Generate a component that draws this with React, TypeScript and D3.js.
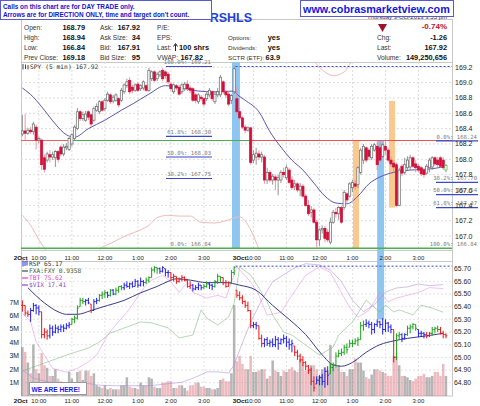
import React from 'react';
import * as d3 from 'd3';

// ---------------- DATA ----------------
const dayLabels = ['2Oct', '3Oct'];
const hourLabels = ['10:00', '11:00', '12:00', '1:00', '2:00', '3:00'];
const barsPerDay = 78;

// SPY 5-min candles [open, high, low, close]
const spyBars: number[][] = [
  [168.33,168.58,168.30,168.37],[168.37,168.59,168.25,168.34],[168.34,168.41,168.32,168.38],[168.38,168.42,168.33,168.36],
  [168.36,168.49,168.32,168.46],[168.42,168.45,168.13,168.25],[168.25,168.30,168.21,168.27],[168.25,168.27,167.86,167.93],
  [168.02,168.06,167.83,167.87],[167.99,168.10,167.96,168.07],[168.06,168.12,167.96,168.03],[168.03,168.10,167.99,168.06],
  [168.02,168.12,167.90,168.10],[168.10,168.12,167.96,168.00],[168.16,168.19,168.04,168.07],[168.07,168.20,168.04,168.16],
  [168.15,168.21,168.12,168.17],[168.13,168.29,168.11,168.27],[168.20,168.34,168.17,168.32],[168.27,168.45,168.24,168.42],
  [168.40,168.67,168.38,168.62],[168.62,168.64,168.50,168.53],[168.53,168.62,168.50,168.58],[168.51,168.63,168.49,168.59],
  [168.62,168.64,168.51,168.55],[168.58,168.60,168.42,168.46],[168.51,168.69,168.49,168.66],[168.64,168.73,168.62,168.69],
  [168.62,168.77,168.59,168.75],[168.75,168.77,168.62,168.64],[168.66,168.80,168.63,168.77],[168.77,168.88,168.75,168.85],
  [168.84,168.86,168.72,168.75],[168.76,168.84,168.73,168.81],[168.77,168.86,168.75,168.84],[168.79,168.81,168.68,168.71],
  [168.77,168.93,168.75,168.90],[168.88,168.99,168.85,168.97],[168.96,169.05,168.93,169.01],[169.03,169.07,168.85,168.88],
  [168.94,168.97,168.86,168.90],[168.90,168.99,168.88,168.97],[168.98,169.01,168.88,168.90],[168.92,168.98,168.89,168.96],
  [168.93,169.03,168.90,169.01],[168.96,168.98,168.88,168.90],[168.90,169.19,168.88,169.16],[169.05,169.16,169.02,169.14],
  [169.14,169.16,169.01,169.03],[169.05,169.14,169.02,169.11],[169.10,169.16,169.07,169.14],[169.16,169.19,169.02,169.05],
  [169.14,169.16,169.05,169.09],[169.11,169.14,168.98,169.01],[168.98,169.01,168.89,168.92],[168.88,168.99,168.85,168.97],
  [168.96,168.98,168.90,168.93],[168.94,168.97,168.83,168.85],[168.88,168.99,168.85,168.97],[168.92,169.01,168.89,168.98],
  [168.98,169.03,168.89,168.92],[168.93,168.96,168.86,168.90],[168.92,168.94,168.75,168.77],[168.84,168.86,168.73,168.77],
  [168.75,168.86,168.72,168.84],[168.81,168.84,168.76,168.79],[168.79,168.81,168.69,168.72],[168.79,168.88,168.76,168.85],
  [168.84,168.93,168.81,168.90],[168.88,168.90,168.76,168.79],[168.75,168.88,168.72,168.85],[168.84,168.93,168.81,168.88],
  [168.84,169.10,168.81,169.07],[169.01,169.03,168.85,168.88],[168.88,168.90,168.80,168.84],[168.85,168.88,168.69,168.72],
  [168.77,168.85,168.72,168.83],[168.88,169.21,168.85,169.18],
  // day 2
  [168.79,168.94,168.59,168.62],[168.62,168.67,168.51,168.54],[168.54,168.56,168.40,168.42],[168.42,168.45,168.34,168.38],
  [168.38,168.43,168.36,168.41],[168.41,168.42,167.93,167.96],[167.99,168.12,167.95,168.06],[168.03,168.15,167.93,168.08],
  [168.07,168.12,167.99,168.03],[168.03,168.10,167.96,168.06],[168.03,168.06,167.68,167.73],[167.73,167.89,167.68,167.83],
  [167.83,167.86,167.70,167.73],[167.73,167.81,167.67,167.78],[167.77,167.80,167.60,167.73],[167.73,167.80,167.53,167.76],
  [167.73,167.86,167.69,167.83],[167.83,167.89,167.76,167.80],[167.76,167.93,167.73,167.89],[167.86,167.89,167.68,167.70],
  [167.73,167.78,167.60,167.63],[167.65,167.73,167.60,167.68],[167.68,167.70,167.57,167.60],[167.60,167.69,167.52,167.65],
  [167.65,167.68,167.50,167.52],[167.52,167.55,167.38,167.40],[167.40,167.47,167.26,167.29],[167.31,167.39,167.24,167.34],
  [167.34,167.37,167.16,167.18],[167.18,167.21,166.84,166.95],[166.95,167.10,166.87,167.08],[167.08,167.14,167.03,167.10],
  [167.10,167.13,166.92,166.97],[167.05,167.09,166.92,166.95],[166.92,167.24,166.89,167.18],[167.18,167.34,167.16,167.31],
  [167.31,167.37,167.24,167.29],[167.29,167.39,167.21,167.37],[167.37,167.39,167.16,167.18],[167.37,167.60,167.34,167.57],
  [167.55,167.57,167.42,167.47],[167.52,167.70,167.50,167.68],[167.63,167.73,167.57,167.70],[167.68,167.73,167.60,167.65],
  [167.67,167.91,167.63,167.89],[167.83,168.15,167.80,168.12],[167.99,168.20,167.94,168.17],[168.15,168.17,167.96,167.99],
  [168.12,168.15,167.99,168.04],[168.02,168.20,167.99,168.17],[168.12,168.21,168.10,168.19],[168.17,168.23,167.86,167.93],
  [168.15,168.23,167.96,167.99],[168.04,168.21,168.02,168.19],[168.17,168.24,168.06,168.12],[168.12,168.15,167.96,167.99],
  [167.99,168.04,167.90,167.94],[167.95,167.99,167.83,167.90],[167.93,167.96,167.38,167.40],[167.40,167.89,167.39,167.86],
  [167.91,167.94,167.78,167.82],[167.83,168.02,167.80,167.93],[167.89,168.04,167.86,167.99],[167.90,168.06,167.86,168.02],
  [168.02,168.04,167.89,167.91],[167.94,167.99,167.83,167.89],[167.91,167.94,167.83,167.86],[167.89,167.91,167.78,167.81],
  [167.86,167.89,167.76,167.80],[167.82,167.94,167.80,167.91],[167.89,168.02,167.83,167.99],[167.90,168.04,167.86,168.02],
  [168.02,168.04,167.91,167.94],[167.99,168.03,167.90,167.93],[168.02,168.04,167.89,167.91],[167.99,168.03,167.86,167.89],
  [167.86,167.94,167.83,167.92],
];

// SPY moving average [barIndex, value]
const spyMA: number[][] = [
  [0,168.93],[4,168.81],[8,168.64],[12,168.46],[16,168.32],[19,168.29],[24,168.40],[30,168.51],[36,168.64],[40,168.72],
  [46,168.85],[52,168.96],[58,168.93],[64,168.89],[70,168.88],[77,168.89],
  [78,168.85],[81,168.77],[86,168.62],[90,168.36],[94,168.16],[98,167.99],[102,167.86],[106,167.69],[110,167.52],
  [114,167.43],[118,167.42],[122,167.52],[126,167.68],[130,167.77],[135,167.83],[141,167.86],[147,167.87],[153,167.90],
];

// comparison overlay (light pink) [barIndex, value | null]
const compareLine: (number | null)[][] = [
  [0,167.27],[3,167.14],[6,166.95],[9,166.79],[12,166.62],[18,166.50],[24,166.62],[28,166.82],[33,166.92],[38,167.01],
  [43,167.08],[46,167.14],[49,167.24],[53,167.27],[57,167.26],[61,167.26],[65,167.18],[70,167.17],[74,167.20],[79,167.25],
  [83,167.08],[86,166.82],[88,166.60],[90,null],[103,null],[104,169.50],[105,169.37],[107,169.24],[110,169.14],[113,169.09],
  [117,169.14],[119,169.24],[122,169.37],[123,169.50],
];

// RSP [high, low, close]
const rspBars: number[][] = [
  [65.45,65.36,65.41],[65.41,65.33,65.35],[65.37,65.32,65.34],[65.39,65.28,65.37],[65.43,65.36,65.41],[65.42,65.34,65.39],
  [65.41,65.33,65.36],[65.36,65.15,65.18],[65.23,65.15,65.20],[65.22,65.14,65.17],[65.26,65.15,65.23],[65.25,65.17,65.20],
  [65.26,65.19,65.23],[65.25,65.19,65.22],[65.26,65.20,65.24],[65.26,65.20,65.23],[65.27,65.22,65.25],[65.28,65.23,65.26],
  [65.31,65.26,65.30],[65.33,65.27,65.31],[65.41,65.30,65.39],[65.47,65.40,65.45],[65.47,65.42,65.44],[65.46,65.41,65.45],
  [65.47,65.42,65.43],[65.42,65.35,65.37],[65.46,65.37,65.44],[65.47,65.42,65.45],[65.50,65.44,65.49],[65.52,65.46,65.50],
  [65.53,65.47,65.51],[65.52,65.47,65.49],[65.54,65.48,65.53],[65.54,65.49,65.50],[65.55,65.49,65.53],[65.56,65.51,65.56],
  [65.57,65.53,65.55],[65.59,65.53,65.57],[65.60,65.55,65.56],[65.59,65.54,65.58],[65.60,65.55,65.56],[65.62,65.56,65.60],
  [65.61,65.55,65.57],[65.63,65.56,65.60],[65.61,65.56,65.59],[65.63,65.58,65.61],[65.64,65.59,65.63],[65.71,65.63,65.69],
  [65.72,65.67,65.71],[65.71,65.66,65.70],[65.71,65.66,65.68],[65.72,65.67,65.71],[65.70,65.64,65.67],[65.69,65.63,65.67],
  [65.67,65.61,65.63],[65.66,65.60,65.64],[65.64,65.58,65.60],[65.63,65.59,65.62],[65.65,65.60,65.63],[65.64,65.60,65.61],
  [65.62,65.55,65.56],[65.60,65.54,65.57],[65.58,65.52,65.54],[65.57,65.53,65.55],[65.59,65.53,65.57],[65.57,65.53,65.55],
  [65.58,65.54,65.56],[65.60,65.55,65.58],[65.59,65.54,65.57],[65.58,65.53,65.56],[65.61,65.55,65.60],[65.66,65.58,65.64],
  [65.64,65.59,65.63],[65.63,65.57,65.59],[65.61,65.55,65.56],[65.60,65.56,65.59],[65.69,65.58,65.67],[65.72,65.65,65.71],
  // day 2
  [65.53,65.47,65.49],[65.52,65.45,65.47],[65.49,65.42,65.44],[65.45,65.39,65.41],[65.44,65.36,65.37],[65.37,65.23,65.25],
  [65.28,65.23,65.26],[65.28,65.22,65.25],[65.25,65.14,65.15],[65.18,65.08,65.11],[65.15,65.08,65.14],[65.16,65.09,65.11],
  [65.14,65.08,65.12],[65.15,65.08,65.10],[65.17,65.08,65.14],[65.16,65.06,65.11],[65.15,65.10,65.14],[65.18,65.11,65.15],
  [65.17,65.08,65.12],[65.15,65.06,65.10],[65.14,65.04,65.11],[65.09,65.01,65.04],[65.06,64.98,65.01],[65.03,64.96,64.98],
  [65.01,64.93,64.96],[64.97,64.90,64.93],[64.94,64.87,64.90],[64.92,64.78,64.81],[64.85,64.73,64.76],[64.85,64.79,64.82],
  [64.86,64.78,64.84],[64.87,64.78,64.81],[64.92,64.76,64.89],[64.93,64.78,64.86],[64.95,64.87,64.92],[64.96,64.89,64.94],
  [65.04,64.92,65.01],[65.06,65.00,65.03],[65.07,65.01,65.04],[65.10,65.02,65.08],[65.11,65.03,65.06],[65.14,65.08,65.11],
  [65.14,65.08,65.11],[65.15,65.10,65.13],[65.16,65.09,65.14],[65.28,65.14,65.25],[65.29,65.21,65.26],[65.30,65.24,65.27],
  [65.29,65.23,65.26],[65.28,65.18,65.22],[65.27,65.19,65.26],[65.30,65.24,65.28],[65.29,65.23,65.26],[65.31,65.18,65.22],
  [65.30,65.20,65.27],[65.28,65.20,65.24],[65.26,65.19,65.22],[65.22,64.96,65.00],[65.19,64.98,65.17],[65.20,65.14,65.18],
  [65.19,65.12,65.15],[65.19,65.14,65.18],[65.25,65.17,65.23],[65.26,65.19,65.24],[65.27,65.22,65.26],[65.26,65.21,65.23],
  [65.22,65.16,65.19],[65.21,65.16,65.19],[65.20,65.15,65.18],[65.20,65.15,65.17],[65.20,65.16,65.19],[65.24,65.17,65.22],
  [65.24,65.19,65.23],[65.25,65.20,65.22],[65.24,65.18,65.19],[65.21,65.15,65.18],[65.19,65.15,65.17],
];

// RSP bar signal: 1 = up (green), 0 = neutral (blue), -1 = down (red)
const rspSignal: number[] = [
  -1,-1,-1,0,0,0,0,-1,-1,-1, 0,0,0,0,0,0,0,0,1,1, 1,1,1,0,0,-1,0,0,1,1, 1,0,1,0,1,1,1,0,0,0,
  0,0,0,0,0,1,1,1,1,1, 0,0,0,0,-1,-1,-1,-1,-1,-1, -1,-1,0,0,0,0,1,1,0,0, 1,1,1,-1,-1,-1,1,1,
  -1,-1,-1,-1,-1,-1,0,0,-1,-1, 0,0,0,0,0,0,0,0,0,0, 0,-1,-1,-1,-1,-1,-1,-1,-1,0, 0,0,0,0,1,1,1,1,1,1,
  1,1,1,1,1,1,1,0,0,0, 0,0,0,0,0,0,0,-1,1,1, 0,0,1,1,1,1,0,0,0,-1, -1,1,1,1,-1,-1,-1,
];

const rspMA: number[][] = [
  [2,65.55],[8,65.43],[13,65.36],[16,65.34],[20,65.34],[25,65.37],[31,65.41],[37,65.45],[43,65.51],[49,65.56],
  [53,65.60],[56,65.62],[61,65.61],[67,65.59],[74,65.59],[79,65.57],[85,65.53],[91,65.41],[97,65.30],[103,65.18],
  [109,65.02],[113,64.94],[116,64.93],[120,64.96],[125,65.04],[130,65.10],[135,65.13],[140,65.15],[147,65.17],[153,65.19],
];

const fxaFxy: number[][] = [
  [0,0.93381],[8,0.93408],[16,0.93435],[24,0.93459],[28,0.93479],[32,0.93510],[38,0.93530],[43,0.93547],[47,0.93544],
  [53,0.93527],[57,0.93493],[62,0.93503],[65,0.93588],[67,0.93560],[71,0.93537],[75,0.93564],[77,0.93611],[79,0.93733],
  [83,0.93706],[86,0.93662],[89,0.93615],[91,0.93571],[95,0.93513],[98,0.93503],[103,0.93469],[108,0.93435],[113,0.93462],
  [115,0.93503],[120,0.93547],[125,0.93621],[127,0.93604],[130,0.93581],[132,0.93604],[135,0.93581],[137,0.93588],
  [142,0.93571],[145,0.93604],[149,0.93594],[153,0.93580],
];
const tbt: number[][] = [
  [0,75.36],[3,75.27],[5,75.06],[8,74.92],[11,74.78],[16,74.74],[20,74.78],[24,74.85],[27,74.92],[31,75.13],[34,75.24],
  [38,75.37],[40,75.45],[43,75.58],[45,75.66],[47,75.71],[51,75.76],[54,75.69],[57,75.58],[60,75.69],[62,75.58],[67,75.52],
  [71,75.55],[74,75.52],[78,75.85],[83,75.69],[86,75.55],[89,75.34],[94,75.37],[98,75.55],[103,75.76],[108,75.85],
  [112,75.79],[115,75.63],[119,75.42],[122,75.32],[126,75.39],[130,75.58],[133,75.48],[136,75.52],[140,75.55],[144,75.58],
  [148,75.63],[153,75.62],
];
const vix: number[][] = [
  [0,15.93],[4,15.79],[10,15.72],[22,15.71],[28,15.67],[34,15.66],[46,15.66],[52,15.69],[58,15.72],[62,15.79],[65,15.85],
  [67,15.90],[71,15.90],[75,15.88],[77,16.02],[79,16.28],[83,16.76],[87,17.14],[91,17.46],[95,17.58],[99,17.70],[103,17.77],
  [108,17.75],[112,17.66],[116,17.46],[120,17.14],[124,16.94],[128,17.06],[132,17.28],[136,17.35],[140,17.37],[144,17.42],
  [148,17.39],[153,17.41],
];

// SPY volume, millions of shares per bar
const volumeM: number[] = [
  3.65,3.3,2.5,1.7,3.85,2.0,1.7,3.2,2.3,2.1, 1.5,1.5,2.0,1.3,1.1,0.9,1.0,1.8,1.3,0.8,
  1.8,1.9,1.2,1.9,1.9,1.5,1.7,0.8,0.7,0.6, 0.8,0.5,0.6,0.5,0.5,0.5,0.8,0.8,1.4,0.7,
  0.6,0.6,0.5,1.0,0.8,0.8,1.4,1.3,0.7,0.6, 0.6,1.0,1.0,1.1,1.1,0.6,0.6,0.8,0.8,0.6,
  0.4,0.8,0.8,1.0,1.0,0.7,0.7,0.6,0.6,0.5, 0.5,0.6,1.2,1.3,1.1,1.1,1.7,6.8,
  2.6,3.0,2.4,2.0,2.0,3.0,1.8,1.8,1.9,2.0, 2.0,1.3,1.5,2.65,1.9,1.8,1.5,1.9,1.8,2.0,
  2.15,1.9,1.8,2.8,2.5,1.9,2.0,2.3,2.3,2.0, 1.5,2.0,2.15,1.9,3.8,2.3,2.15,2.3,1.8,1.8,
  1.5,2.0,2.0,2.8,2.5,2.5,1.9,1.4,1.3,1.6, 2.0,2.0,1.9,1.8,1.7,1.5,1.5,3.0,3.0,2.3,
  1.5,1.5,1.4,1.2,1.1,1.3,1.5,1.5,1.65,1.4, 1.4,1.5,1.8,1.8,1.5,2.4,1.5,
];

const priceTicks = [167.0, 167.2, 167.4, 167.6, 167.8, 168.0, 168.2, 168.4, 168.6, 168.8, 169.0, 169.2];
const rspTicks = [64.8, 64.9, 65.0, 65.1, 65.2, 65.3, 65.4, 65.5, 65.6, 65.7];
const volTicks = [1, 2, 3, 4, 5, 6, 7];

const fibPct = ['0.0%', '38.2%', '50.0%', '61.8%', '100.0%'];
const fib1Prices = [166.84, 167.75, 168.03, 168.30, 169.21];
const fib2Prices = [168.24, 167.70, 167.54, 167.37, 166.84];
const supportLevel = 168.245;

// highlight columns [fromBar, toBar, topPrice, bottomPrice]
const blueCols = [[76.2, 79.1, 169.27, 166.84]];
const orangeCols = [[120.2, 122.4, 168.24, 166.84], [133.3, 135.5, 168.76, 167.37]];
const blueSpan = [129.0, 131.5, 168.24, 65.30]; // price top, RSP bottom

// ---------------- CHART ----------------
const PL = 21, PR = 452;
const UT = 62, UB = 250;
const LT = 261, LB = 396;

export default function App() {
  const x = d3.scaleLinear().domain([-0.5, 156.2]).range([PL, PR]);
  const yP = d3.scaleLinear().domain([166.84, 169.21]).range([248.3, 66.5]);
  const yR = d3.scaleLinear().domain([64.8, 65.7]).range([382.7, 268.7]);
  const yV = d3.scaleLinear().domain([0, 7]).range([396, 302.3]);
  const yFx = d3.scaleLinear().domain([0.933, 0.9375]).range([395, 262]);
  const yTbt = d3.scaleLinear().domain([74.5, 75.9]).range([395, 262]);
  const yVix = d3.scaleLinear().domain([15.5, 17.8]).range([395, 262]);

  const hourTicks: { k: number; label: string }[] = [];
  dayLabels.forEach((_, d) => hourLabels.forEach((lab, h) => hourTicks.push({ k: d * barsPerDay + 6 + 12 * h, label: lab })));

  const smooth = (ys: (v: number) => number) =>
    d3.line<number[]>().x((d) => x(d[0])).y((d) => ys(d[1])).curve(d3.curveMonotoneX);
  const straight = (ys: (v: number) => number) =>
    d3.line<number[]>().x((d) => x(d[0])).y((d) => ys(d[1]));
  const compPath = d3
    .line<(number | null)[]>()
    .defined((d) => d[1] !== null)
    .x((d) => x(d[0] as number))
    .y((d) => yP(d[1] as number))
    .curve(d3.curveMonotoneX)(compareLine);

  const prevHighSpy = d3.max(spyBars.slice(0, barsPerDay), (b) => b[1]) as number;
  const prevHighRsp = d3.max(rspBars.slice(0, barsPerDay), (b) => b[0]) as number;

  const sigColor = (s: number) => (s > 0 ? '#1aa01a' : s < 0 ? '#ee1515' : '#2020e8');
  const mono = '"DejaVu Sans Mono", monospace';
  const sans = '"Liberation Sans", Arial, sans-serif';

  const hdrLabel = { fontSize: 6.6, fill: '#333', fontFamily: sans } as const;
  const hdrVal = { fontSize: 7.4, fill: '#111', fontWeight: 700, fontFamily: sans } as const;
  const rowY = [29.5, 39.5, 49.5, 59.5];

  return (
    <svg width={480} height={406} viewBox="0 0 480 406"
      style={{ position: 'absolute', left: 0, top: 0, background: '#fff', fontFamily: sans }}>
      <defs>
        <clipPath id="upClip"><rect x={PL} y={UT} width={PR - PL} height={UB - UT} /></clipPath>
        <clipPath id="loClip"><rect x={PL} y={LT} width={PR - PL} height={LB - LT} /></clipPath>
      </defs>
      <rect x={0} y={0} width={480} height={406} fill="#fff" />

      {/* frame */}
      <rect x={PL + 0.5} y={19.5} width={PR - PL} height={LB - 19.5} fill="none" stroke="#c8c8c8" />
      <line x1={PL} x2={PR} y1={UT + 0.5} y2={UT + 0.5} stroke="#c8c8c8" />
      <line x1={PL} x2={PR} y1={UB + 0.5} y2={UB + 0.5} stroke="#c8c8c8" />
      <line x1={PL} x2={PR} y1={LT + 0.5} y2={LT + 0.5} stroke="#c8c8c8" />

      {/* header: date line and title */}
      <text x={447} y={19} textAnchor="end" fontSize={6} fill="#333">Thursday 3-Oct-2013 3:55 pm</text>
      <text x={252} y={21.5} textAnchor="end" fontSize={12.5} fontWeight={700} fill="#1f3fd8">RSHLS</text>

      {/* header table */}
      {['Open:', 'High:', 'Low:', 'Prev Close:'].map((t, i) => (
        <text key={'l1' + i} x={24} y={rowY[i]} style={hdrLabel}>{t}</text>))}
      {['168.79', '168.94', '166.84', '169.18'].map((t, i) => (
        <text key={'v1' + i} x={85} y={rowY[i]} textAnchor="end" style={hdrVal}>{t}</text>))}
      {['Ask:', 'Ask Size:', 'Bid:', 'Bid Size:'].map((t, i) => (
        <text key={'l2' + i} x={100} y={rowY[i]} style={hdrLabel}>{t}</text>))}
      {['167.92', '34', '167.91', '95'].map((t, i) => (
        <text key={'v2' + i} x={140} y={rowY[i]} textAnchor="end" style={hdrVal}>{t}</text>))}
      {['P/E:', 'EPS:', 'Last:', 'VWAP:'].map((t, i) => (
        <text key={'l3' + i} x={157} y={rowY[i]} style={hdrLabel}>{t}</text>))}
      <path d="M175.5,51 V44.5 M173.5,46.5 L175.5,43.5 L177.5,46.5" stroke="#222" strokeWidth={1} fill="none" />
      <text x={179} y={rowY[2]} style={hdrVal}>100 shrs</text>
      <text x={203} y={rowY[3]} textAnchor="end" style={hdrVal}>167.82</text>
      {['Options:', 'Dividends:', 'SCTR (ETF):'].map((t, i) => (
        <text key={'l4' + i} x={228} y={rowY[i + 1]} style={{ ...hdrLabel, fontSize: 6.2 }}>{t}</text>))}
      {['yes', 'yes', '63.9'].map((t, i) => (
        <text key={'v4' + i} x={280} y={rowY[i + 1]} textAnchor="end" style={hdrVal}>{t}</text>))}
      <path d="M378,24 L387,24 L382.5,32 Z" fill="#a0102a" />
      <text x={447} y={rowY[0] - 0.5} textAnchor="end" style={{ ...hdrVal, fill: '#c0102e', fontSize: 8 }}>-0.74%</text>
      {['Chg:', 'Last:', 'Volume:'].map((t, i) => (
        <text key={'l5' + i} x={377} y={rowY[i + 1]} style={hdrLabel}>{t}</text>))}
      {['-1.26', '167.92', '149,250,656'].map((t, i) => (
        <text key={'v5' + i} x={447} y={rowY[i + 1]} textAnchor="end" style={hdrVal}>{t}</text>))}

      {/* ============ UPPER PANEL ============ */}
      <g clipPath="url(#upClip)">
        {priceTicks.map((p) => (
          <line key={'gp' + p} x1={PL} x2={PR} y1={yP(p)} y2={yP(p)} stroke="#dcdcdc" strokeDasharray="2,2" />))}
        {hourTicks.map((t) => (
          <line key={'gv' + t.k} x1={x(t.k)} x2={x(t.k)} y1={UT} y2={UB} stroke="#dcdcdc" strokeDasharray="2,2" />))}
        {blueCols.map((c, i) => (
          <rect key={'bc' + i} x={x(c[0])} width={x(c[1]) - x(c[0])} y={yP(c[2])} height={yP(c[3]) - yP(c[2])} fill="#8ec6ef" />))}
        {orangeCols.map((c, i) => (
          <rect key={'oc' + i} x={x(c[0])} width={x(c[1]) - x(c[0])} y={yP(c[2])} height={yP(c[3]) - yP(c[2])} fill="#f9c98f" />))}
        <path d={compPath || ''} fill="none" stroke="#f3b9b9" strokeWidth={1} />
        <line x1={x(barsPerDay - 0.5)} x2={PR} y1={yP(prevHighSpy)} y2={yP(prevHighSpy)} stroke="#3344dd" strokeDasharray="2,2" />
      </g>
      <rect x={x(blueSpan[0])} width={x(blueSpan[1]) - x(blueSpan[0])} y={yP(blueSpan[2])} height={yR(blueSpan[3]) - yP(blueSpan[2])} fill="#8ec6ef" />

      {/* support / resistance */}
      <line x1={PL} x2={x(16.5)} y1={yP(supportLevel)} y2={yP(supportLevel)} stroke="#f06060" strokeWidth={1} />
      <line x1={x(16.5)} x2={x(83)} y1={yP(supportLevel)} y2={yP(supportLevel)} stroke="#4cae4c" strokeWidth={1.2} />
      <line x1={x(83)} x2={PR} y1={yP(supportLevel)} y2={yP(supportLevel)} stroke="#f05050" strokeWidth={1.2} />
      <line x1={PL} x2={PR} y1={yP(166.84)} y2={yP(166.84)} stroke="#4cae4c" strokeWidth={1.4} />

      {/* fib 1 */}
      {fib1Prices.map((p, i) => (
        <g key={'f1' + i}>
          {i > 0 && <line x1={166} x2={212} y1={yP(p)} y2={yP(p)} stroke="#3a48cc" strokeWidth={1.2} />}
          <text x={211} y={yP(p) - 2.2} textAnchor="end" fontSize={5.6} fill="#7a7a7a" fontFamily={mono}>{fibPct[i] + ': ' + p.toFixed(2)}</text>
        </g>))}
      {/* fib 2 */}
      {fib2Prices.map((p, i) => (
        <g key={'f2' + i}>
          {i < 4 && <line x1={436} x2={478} y1={yP(p)} y2={yP(p)} stroke="#3a48cc" strokeWidth={1.2} />}
          <text x={477} y={yP(p) - 2.4} textAnchor="end" fontSize={5.6} fill="#7a7a7a" fontFamily={mono}>{fibPct[i] + ': ' + p.toFixed(2)}</text>
        </g>))}

      <g clipPath="url(#upClip)">
        <path d={smooth(yP)(spyMA) || ''} fill="none" stroke="#5a55b5" strokeWidth={1} />
        {spyBars.map((b, k) => {
          const [o, h, l, c] = b;
          const up = c >= o;
          const last = k === spyBars.length - 1;
          const cx = x(k);
          const top = yP(Math.max(o, c));
          const bh = Math.max(1, yP(Math.min(o, c)) - top);
          const body = last ? '#4cbb4c' : up ? '#666' : '#d0103a';
          return (
            <g key={'c' + k}>
              <line x1={cx} x2={cx} y1={yP(h)} y2={yP(l)} stroke={up ? '#8a8a8a' : '#ec8a9c'} strokeWidth={0.9} />
              <rect x={cx - 1.1} y={top} width={2.2} height={bh} fill={up ? '#fff' : '#d0103a'} stroke={body} strokeWidth={0.7} />
            </g>);
        })}
      </g>

      {/* upper legend */}
      <path d="M23,64 V69.5 M25.5,64.5 V69 M28,65 V69.5" stroke="#444" strokeWidth={1} />
      <text x={30} y={68.7} fontSize={6.3} fill="#333" fontFamily={mono}>SPY (5 min) 167.92</text>

      {/* right axis upper */}
      {priceTicks.map((p) => (
        <text key={'pt' + p} x={455} y={yP(p) + 2.5} fontSize={7} fill="#222">{p.toFixed(1)}</text>))}

      {/* x labels (between panels and bottom) */}
      {[259.5, 403].map((yy) => (
        <g key={'xl' + yy}>
          {dayLabels.map((d, i) => (
            <text key={d} x={x(i * barsPerDay + (i ? 1 : -0.6))} y={yy} textAnchor="middle" fontSize={6.2} fontWeight={700} fill="#111">{d}</text>))}
          {hourTicks.map((t) => (
            <text key={'h' + t.k} x={x(t.k)} y={yy} textAnchor="middle" fontSize={6} fill="#222">{t.label}</text>))}
        </g>))}

      {/* ============ LOWER PANEL ============ */}
      <g clipPath="url(#loClip)">
        {rspTicks.map((p) => (
          <line key={'gr' + p} x1={PL} x2={PR} y1={yR(p)} y2={yR(p)} stroke="#e2e2e2" strokeDasharray="2,2" />))}
        {hourTicks.map((t) => (
          <line key={'gv2' + t.k} x1={x(t.k)} x2={x(t.k)} y1={LT} y2={LB} stroke="#e2e2e2" strokeDasharray="2,2" />))}
        {volumeM.map((v, k) => {
          const b = spyBars[k];
          const down = b[3] < b[0];
          return (<rect key={'v' + k} x={x(k) - 1.25} width={2.5} y={yV(v)} height={yV(0) - yV(v)}
            fill={down ? 'rgba(222,120,130,0.5)' : 'rgba(120,120,120,0.55)'} />);
        })}
        <rect x={x(blueSpan[0])} width={x(blueSpan[1]) - x(blueSpan[0])} y={LT} height={yR(blueSpan[3]) - LT} fill="#8ec6ef" />
        <path d={straight(yFx)(fxaFxy) || ''} fill="none" stroke="rgba(110,175,110,0.5)" strokeWidth={1} />
        <path d={straight(yTbt)(tbt) || ''} fill="none" stroke="rgba(235,130,225,0.5)" strokeWidth={1} />
        <path d={straight(yVix)(vix) || ''} fill="none" stroke="rgba(175,135,225,0.55)" strokeWidth={1} />
        <line x1={x(barsPerDay - 0.5)} x2={PR} y1={yR(prevHighRsp)} y2={yR(prevHighRsp)} stroke="#3344dd" strokeDasharray="2,2" />
        <path d={smooth(yR)(rspMA) || ''} fill="none" stroke="#3a3a90" strokeWidth={1} />
        {rspBars.map((b, k) => {
          const [h, l, c] = b;
          const prev = k > 0 ? rspBars[k - 1][2] : c;
          const o = Math.min(h, Math.max(l, prev));
          const cx = x(k);
          const col = sigColor(rspSignal[k]);
          return (
            <g key={'r' + k} stroke={col} strokeWidth={1}>
              <line x1={cx} x2={cx} y1={yR(h)} y2={yR(l)} />
              <line x1={cx - 1.3} x2={cx} y1={yR(o)} y2={yR(o)} />
              <line x1={cx} x2={cx + 1.3} y1={yR(c)} y2={yR(c)} />
            </g>);
        })}
      </g>

      {/* lower legend */}
      <path d="M23,260.5 V266.5 M25,261.5 V266 M27,260.5 V265.5" stroke="#2a2ad0" strokeWidth={1} />
      <line x1={24.5} x2={26} y1={261.5} y2={261.5} stroke="#1aa01a" />
      <text x={29} y={266} fontSize={6.2} fill="#333" fontFamily={mono}>RSP  65.17</text>
      <line x1={22} x2={28} y1={271} y2={271} stroke="#2f5a2f" strokeWidth={1.2} />
      <text x={29} y={273.3} fontSize={6.2} fill="#2f5a2f" fontFamily={mono}>FXA:FXY 0.9358</text>
      <line x1={22} x2={28} y1={278} y2={278} stroke="#e040c8" strokeWidth={1.2} />
      <text x={29} y={280.3} fontSize={6.2} fill="#e040c8" fontFamily={mono}>TBT 75.62</text>
      <line x1={22} x2={28} y1={285} y2={285} stroke="#8a48c8" strokeWidth={1.2} />
      <text x={29} y={287.3} fontSize={6.2} fill="#8a48c8" fontFamily={mono}>$VIX 17.41</text>

      {/* right axis lower */}
      {rspTicks.map((p) => (
        <text key={'rt' + p} x={454} y={yR(p) + 2.4} fontSize={6.8} fill="#222">{p.toFixed(2)}</text>))}
      {/* volume axis */}
      {volTicks.map((v) => (
        <text key={'vt' + v} x={19} y={yV(v) + 2.4} textAnchor="end" fontSize={6.8} fill="#222">{v + 'M'}</text>))}

      {/* WE ARE HERE */}
      <rect x={29.5} y={382.5} width={57} height={12} fill="#fff" stroke="#9a9a9a" />
      <text x={31.5} y={391.5} fontSize={6.6} fontWeight={700} fill="#1a1aee">WE ARE HERE!</text>

      {/* overlay boxes */}
      <rect x={0.5} y={0.5} width={211} height={19} fill="#fff" stroke="#5a5acc" />
      <text x={3} y={8.5} fontSize={6.4} fontWeight={700} fill="#1515cc">Calls on this chart are for DAY TRADE only.</text>
      <text x={3} y={16.5} fontSize={6.4} fontWeight={700} fill="#1515cc">Arrows are for DIRECTION ONLY, time and target don't count.</text>
      <rect x={300.5} y={0.5} width={153} height={16} fill="#fff" stroke="#5a5acc" />
      <text x={303} y={13} fontSize={10.8} fontWeight={700} fill="#1515dd">www.cobrasmarketview.com</text>
    </svg>
  );
}
